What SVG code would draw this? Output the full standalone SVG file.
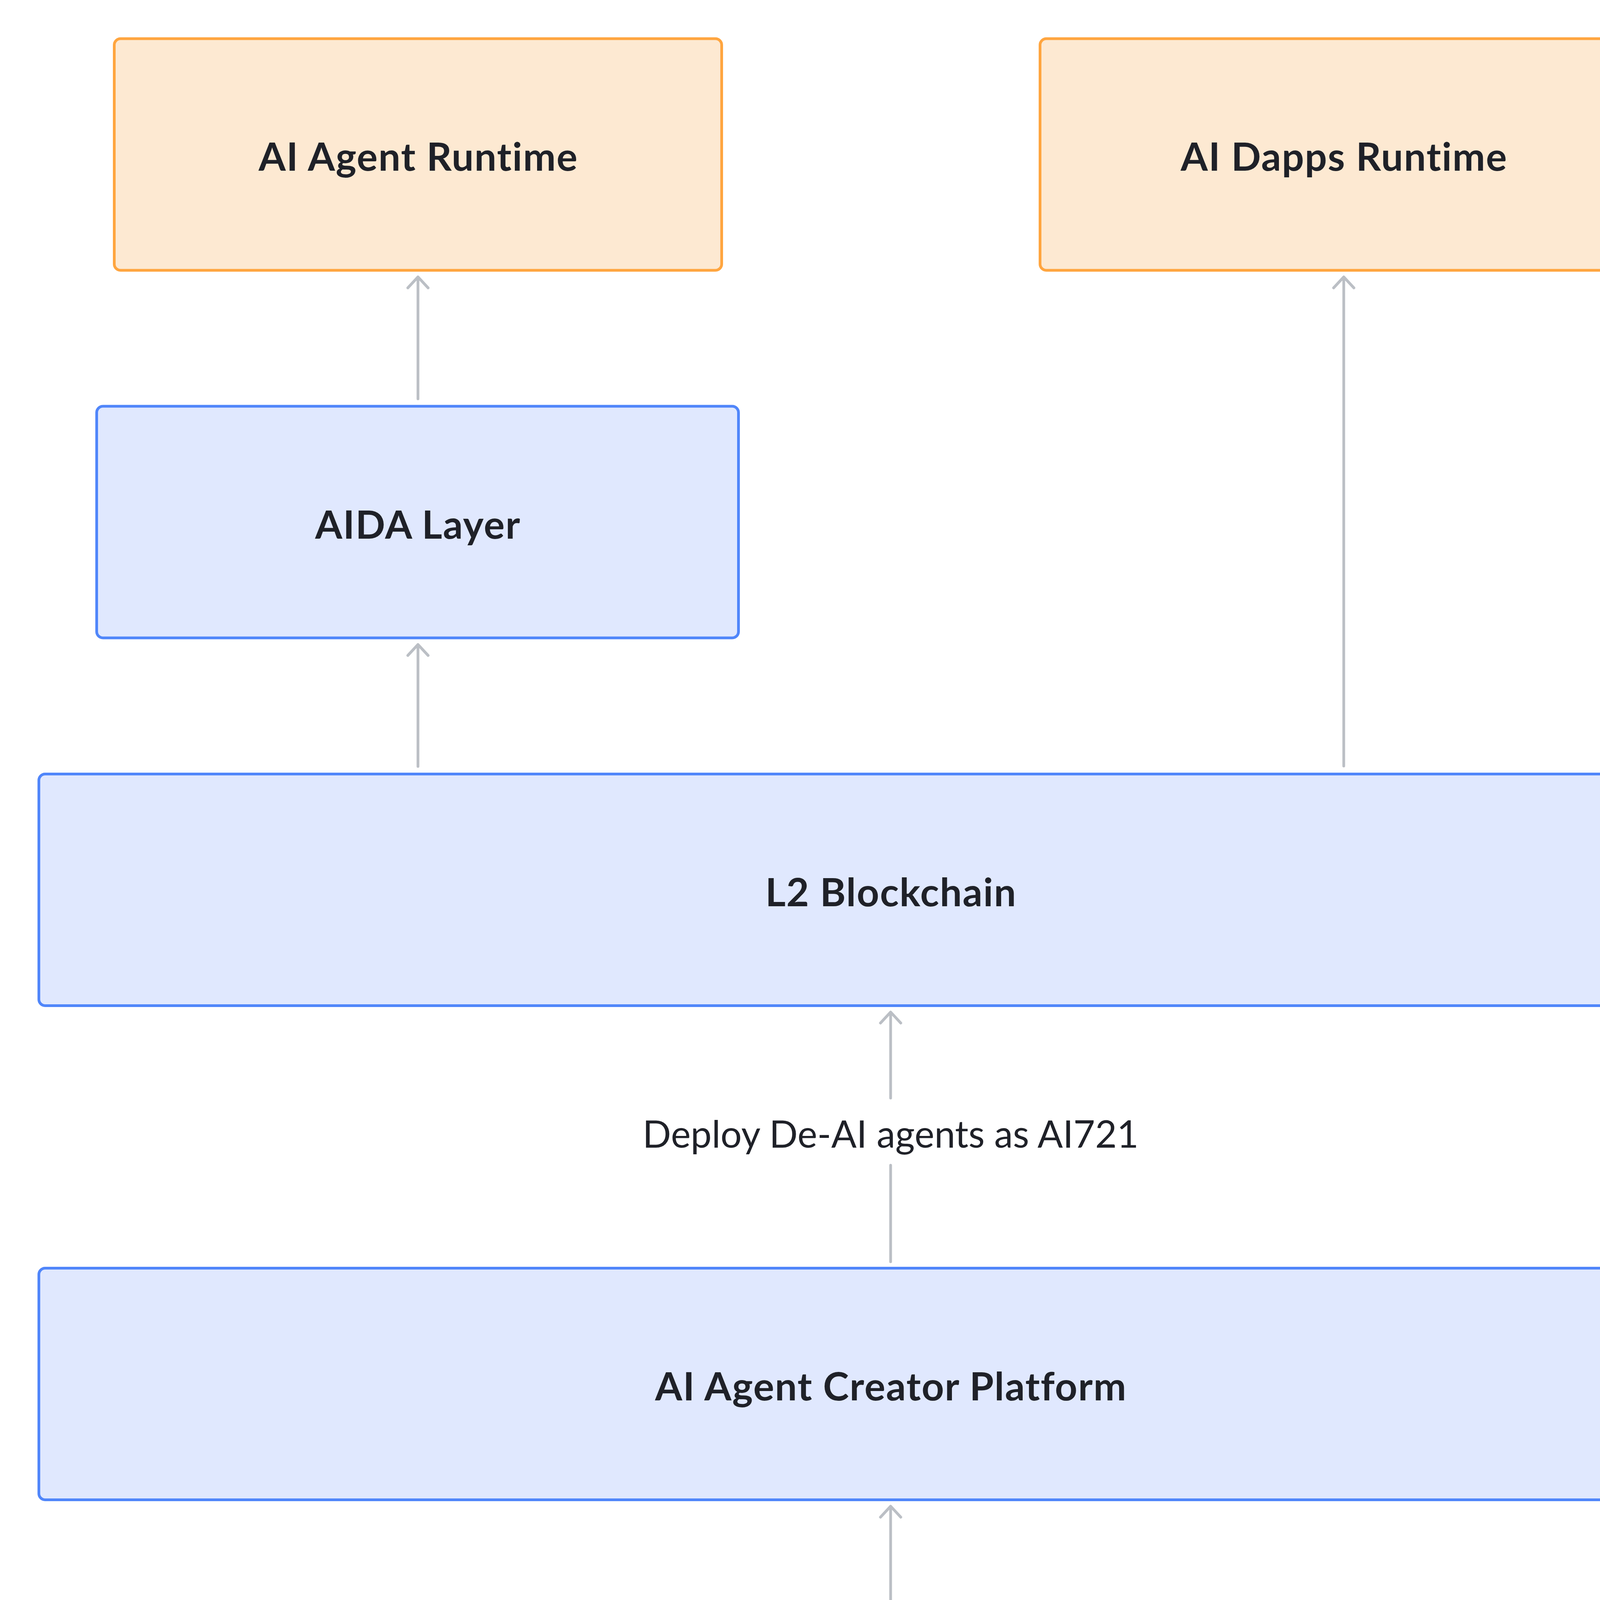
<svg xmlns="http://www.w3.org/2000/svg" width="4564" height="5512" viewBox="0 0 4564 5512">
<defs>
<style>
.orange{fill:#FDE9D2;stroke:#FFA53F;stroke-width:7}
.blue{fill:#E0E8FE;stroke:#5086FA;stroke-width:7}
.cont{fill:#FFFFFF;stroke:#646A73;stroke-width:7}
.lbl{font-family:Lato,"Liberation Sans",sans-serif;font-weight:700;font-size:100px;letter-spacing:2px;fill:#1F2128;text-anchor:middle}
.elbl{font-family:Lato,"Liberation Sans",sans-serif;font-weight:400;font-size:96px;fill:#1F2128;text-anchor:middle}
.clbl{font-family:Lato,"Liberation Sans",sans-serif;font-weight:700;font-size:100px;letter-spacing:1px;fill:#1F2128}
.edge{fill:none;stroke:#BBBFC5;stroke-width:7;stroke-linecap:round;stroke-linejoin:round}
</style>
</defs>
<rect width="4564" height="5512" fill="#FFFFFF"/>
<g id="depin-connector">
<rect class="cont" x="99.5" y="4311" width="4361" height="1098" rx="16"/>
<text class="clbl" x="359" y="4521">DePIN Connector</text>
</g>
<g id="ai-agent-runtime">
<rect class="orange" x="292.5" y="99" width="1555" height="593" rx="16"/>
<text class="lbl" x="1071" y="437">AI Agent Runtime</text>
</g>
<g id="ai-dapps-runtime">
<rect class="orange" x="2662.5" y="99" width="1555" height="593" rx="16"/>
<text class="lbl" x="3441" y="437">AI Dapps Runtime</text>
</g>
<g id="aida-layer">
<rect class="blue" x="247.5" y="1040" width="1643" height="593" rx="16"/>
<text class="lbl" x="1070" y="1379">AIDA Layer</text>
</g>
<g id="l2-blockchain">
<rect class="blue" x="99.5" y="1981.5" width="4361" height="593" rx="16"/>
<text class="lbl" x="2281" y="2320">L2 Blockchain</text>
</g>
<g id="ai-agent-creator-platform">
<rect class="blue" x="99.5" y="3246.5" width="4361" height="593" rx="16"/>
<text class="lbl" x="2281" y="3585">AI Agent Creator Platform</text>
</g>
<g id="storage-module">
<rect class="orange" x="357" y="4745" width="1097" height="415" rx="16"/>
<text class="lbl" x="906.5" y="4994">Storage Module</text>
</g>
<g id="computing-power">
<rect class="orange" x="1686" y="4727" width="1187" height="434" rx="16"/>
<text class="lbl" x="2280.5" y="4986">Computing Power</text>
</g>
<g id="physical-data">
<rect class="orange" x="3112" y="4727" width="1186" height="434" rx="16"/>
<text class="lbl" x="3706" y="4986">Physical Data</text>
</g>
<g id="connectors">
<path class="edge" d="M1070 1021 V709 M1044 737 L1070 709 L1096 737"/>
<path class="edge" d="M1070 1962 V1650 M1044 1678 L1070 1650 L1096 1678"/>
<path class="edge" d="M3440 1961 V709 M3414 737 L3440 709 L3466 737"/>
<path class="edge" d="M2280 3230 V2983 M2280 2811 V2591 M2254 2619 L2280 2591 L2306 2619"/>
<text class="elbl" x="2280" y="2938">Deploy De-AI agents as AI721</text>
<path class="edge" d="M2280 4292 V3856 M2254 3884 L2280 3856 L2306 3884"/>
</g>
</svg>
